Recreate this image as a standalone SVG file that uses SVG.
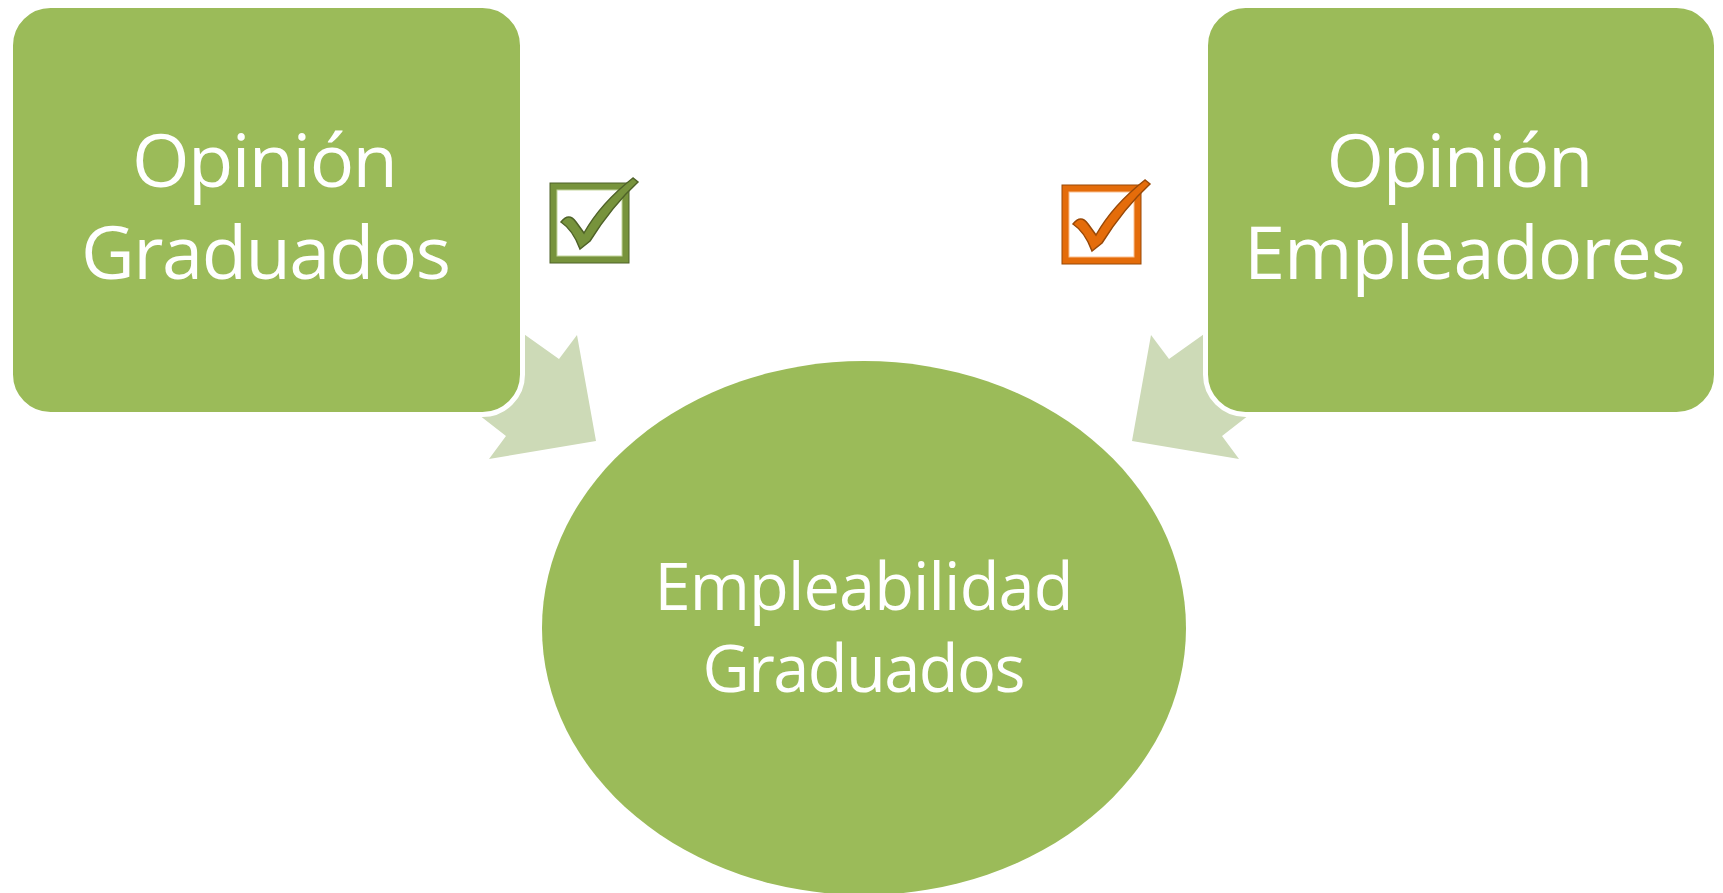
<svg xmlns="http://www.w3.org/2000/svg" width="1723" height="893" viewBox="0 0 1723 893">
<style>
.box{fill:#9BBB59;stroke:#FFFFFF;stroke-width:5}
.arrow{fill:#CDDAB7}
.t{font-family:"Open Sans","Noto Sans",sans-serif;fill:#FFFFFF;text-anchor:middle}
.big{font-size:74px}
.mid{font-size:65px}
</style>
<rect width="1723" height="893" fill="#FFFFFF"/>
<g id="connectors">
<polygon class="arrow" points="577,335 596,441 489,459 506,436 470,408 480,330 500,317 559,359"/>
<polygon class="arrow" points="1151,335 1132,441 1239,459 1222,436 1258,408 1248,330 1228,317 1169,359"/>
</g>
<g id="node-graduados">
<rect class="box" x="10.5" y="5.5" width="512" height="409" rx="40" ry="40"/>
<text class="t big" x="265" y="187" textLength="266" lengthAdjust="spacing">Opinión</text>
<text class="t big" x="266" y="279" textLength="370" lengthAdjust="spacing">Graduados</text>
</g>
<g id="node-empleadores">
<rect class="box" x="1205.5" y="5.5" width="511" height="409" rx="40" ry="40"/>
<text class="t big" x="1460" y="187" textLength="267" lengthAdjust="spacing">Opinión</text>
<text class="t big" x="1465" y="279" textLength="442" lengthAdjust="spacing">Empleadores</text>
</g>
<g id="node-empleabilidad">
<ellipse cx="864" cy="628" rx="322" ry="267" fill="#9BBB59"/>
<text class="t mid" x="864" y="610" textLength="419" lengthAdjust="spacing">Empleabilidad</text>
<text class="t mid" x="864" y="692" textLength="323" lengthAdjust="spacing">Graduados</text>
</g>
<g id="check-green">
<rect x="553.5" y="186.5" width="72" height="73" fill="none" stroke="#77933C" stroke-width="7"/>
<rect x="550" y="183" width="79" height="80" fill="none" stroke="#4F6228" stroke-width="1"/>
<rect x="557" y="190" width="65" height="66" fill="none" stroke="#C3D69B" stroke-width="1"/>
<path d="M561 222 Q569 212 576 222 L584 233 Q601 203 633 178 L638 182 Q612 206 590 241 L580 249 Q573 230 561 222 Z" fill="#77933C" stroke="#4F6228" stroke-width="1.5"/>
</g>
<g id="check-orange">
<rect x="1065.5" y="188.5" width="72" height="72" fill="none" stroke="#E46C0A" stroke-width="7"/>
<rect x="1062" y="185" width="79" height="79" fill="none" stroke="#984807" stroke-width="1"/>
<rect x="1069" y="192" width="65" height="65" fill="none" stroke="#FAC090" stroke-width="1"/>
<path d="M1073 224 Q1081 214 1088 224 L1096 235 Q1113 205 1145 180 L1150 184 Q1124 208 1102 243 L1092 251 Q1085 232 1073 224 Z" fill="#E46C0A" stroke="#984807" stroke-width="1.5"/>
</g>
</svg>
